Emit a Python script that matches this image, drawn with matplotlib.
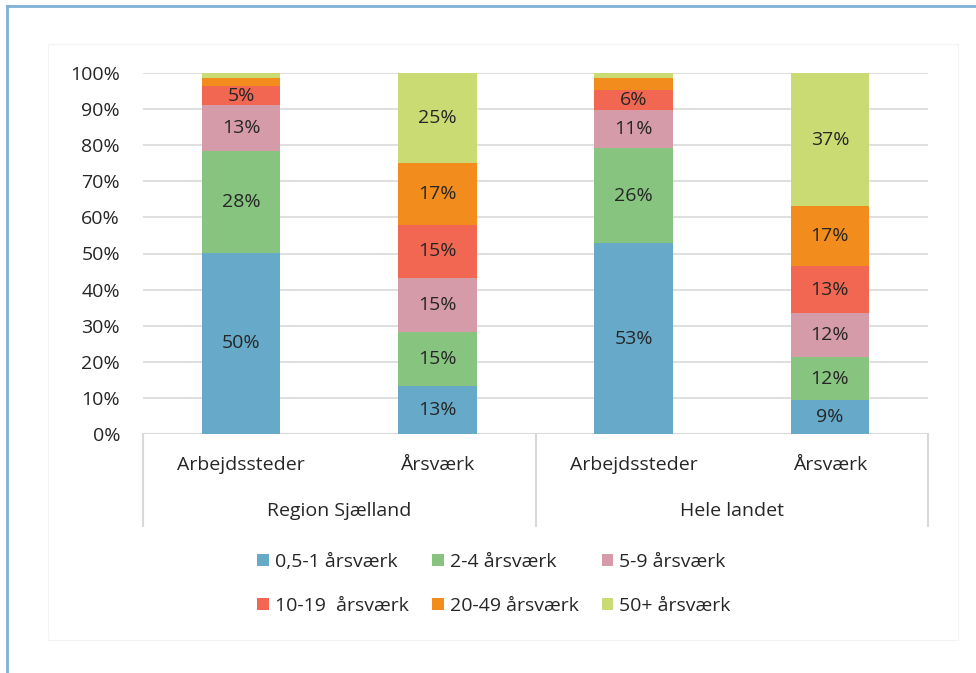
import matplotlib
matplotlib.use("Agg")
from matplotlib import pyplot as plt
from matplotlib.lines import Line2D
from matplotlib.patches import Rectangle
import numpy as np

plt.rcParams['font.family'] = ['Open Sans', 'DejaVu Sans']

groups = ["Region Sjælland", "Hele landet"]
bar_labels = ["Arbejdssteder", "Årsværk", "Arbejdssteder", "Årsværk"]
series = ["0,5-1 årsværk", "2-4 årsværk", "5-9 årsværk",
          "10-19  årsværk", "20-49 årsværk", "50+ årsværk"]
colors = ["#67a9c9", "#86c47f", "#d59ba9", "#f26752", "#f28c1d", "#cbdb73"]

# shares per bar, one list per size class (bottom to top)
v_05_1 = [50.2, 13.2, 52.8, 9.3]
v_2_4 = [28.2, 15.1, 26.3, 12.0]
v_5_9 = [12.7, 14.9, 10.6, 12.2]
v_10_19 = [5.2, 14.8, 5.6, 13.0]
v_20_49 = [2.3, 17.0, 3.3, 16.6]
v_50 = [1.4, 25.0, 1.4, 36.9]
values = [v_05_1, v_2_4, v_5_9, v_10_19, v_20_49, v_50]

FS = 14
TXT = "#262626"

fig = plt.figure(figsize=(9.76, 6.73), dpi=100)
W, H = 976, 673

# outer frame
fig.add_artist(Line2D([7/W, 7/W], [0, 1-6/H], color="#7fb2d6", lw=2))
fig.add_artist(Line2D([7/W, 1], [1-6/H, 1-6/H], color="#7fb2d6", lw=2))
# faint chart area border
fig.add_artist(Rectangle((48/W, 1-640/H), 910/W, 596/H, fill=False,
                         edgecolor="#f3f3f3", lw=0.8))

ax = fig.add_axes([143/W, 1-434/H, 785/W, 361/H])
x = np.arange(4) + 0.5
bottom = np.zeros(4)
for name, vals, c in zip(series, values, colors):
    vals = np.array(vals) / 100
    ax.bar(x, vals, 0.4, bottom=bottom, color=c, label=name, zorder=3)
    for xi, b, v in zip(x, bottom, vals):
        if v >= 0.045:
            ax.text(xi, b + v/2, f"{round(v*100):.0f}%", ha="center", va="center",
                    fontsize=FS, color=TXT, zorder=4)
    bottom += vals

ax.set_xlim(0, 4)
ax.set_ylim(0, 1)
ax.set_yticks(np.arange(0, 1.01, 0.1))
ax.set_yticklabels([f"{i*10}%" for i in range(11)], fontsize=FS, color=TXT)
ax.set_xticks([])
ax.tick_params(axis="y", length=0, pad=16.5)
ax.yaxis.grid(True, color="#d9d9d9", lw=1.2, zorder=0)
for s in ax.spines.values():
    s.set_visible(False)
ax.axhline(0, color="#d9d9d9", lw=1.5, zorder=2)

# multi-level category axis
for xp in [0, 2, 4]:
    ax.add_artist(Line2D([xp, xp], [0, -92/361], color="#d9d9d9", lw=1.5,
                         transform=ax.transData, clip_on=False))
for xi, lab in zip(x, bar_labels):
    ax.text(xi, -31/361, lab, ha="center", va="center", fontsize=FS, color=TXT)
for gi, g in enumerate(groups):
    ax.text(gi*2 + 1, -77/361, g, ha="center", va="center", fontsize=FS, color=TXT)

handles, labels = ax.get_legend_handles_labels()
order = [0, 3, 1, 4, 2, 5]
fig.legend([handles[i] for i in order], [labels[i] for i in order], ncol=3,
           loc="center", bbox_to_anchor=(494/W, 1-584/H),
           frameon=False, fontsize=FS, handlelength=0.6, handleheight=0.6,
           handletextpad=0.3, columnspacing=1.2, labelspacing=1.35,
           labelcolor=TXT)

fig.savefig("out.png", dpi=100)
